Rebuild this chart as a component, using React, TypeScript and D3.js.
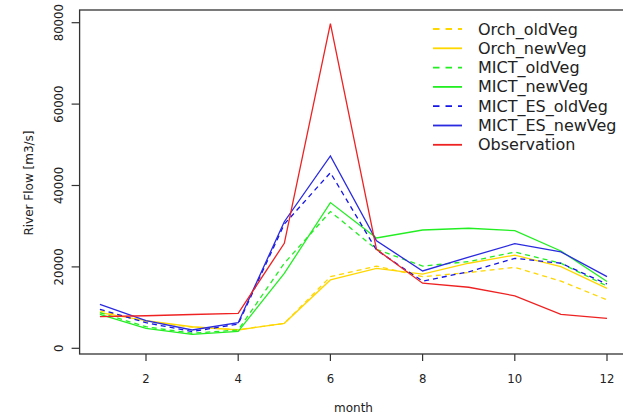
import React from "react";
import * as d3 from "d3";

const months = [1, 2, 3, 4, 5, 6, 7, 8, 9, 10, 11, 12];
const orchOld = [9200, 6600, 5200, 4600, 6100, 17600, 20200, 17600, 18600, 19900, 16500, 11900];
const orchNew = [8750, 6800, 5300, 4500, 6140, 16800, 19650, 18250, 20900, 22900, 20050, 14740];
const mictOld = [8750, 5300, 3700, 4500, 20900, 33600, 24300, 20200, 21300, 23650, 20900, 15300];
const mictNew = [8350, 4900, 3440, 4180, 18400, 35800, 27100, 29070, 29500, 28900, 23900, 16400];
const mictEsOld = [9580, 6300, 4100, 5970, 30500, 43150, 24150, 16500, 18800, 22100, 20900, 15800];
const mictEsNew = [10800, 6800, 4500, 6300, 31100, 47250, 26400, 19000, 22400, 25700, 23700, 17600];
const observation = [7760, 8000, 8300, 8600, 25800, 79800, 24300, 16000, 15000, 12900, 8350, 7370];

const xTicks = [2, 4, 6, 8, 10, 12];
const yTicks = [0, 20000, 40000, 60000, 80000];

const seriesNames = ["Orch_oldVeg", "Orch_newVeg", "MICT_oldVeg", "MICT_newVeg", "MICT_ES_oldVeg", "MICT_ES_newVeg", "Observation"];
const seriesValues = [orchOld, orchNew, mictOld, mictNew, mictEsOld, mictEsNew, observation];
const seriesColors = ["#ffd700", "#ffd700", "#22ee22", "#22ee22", "#1515e6", "#2a2ae0", "#ee2222"];
const seriesDashed = [true, false, true, false, true, false, false];

export default function App() {
  const left = 79.6, right = 627.3, top = 10, bottom = 354;
  const x = d3.scaleLinear().domain([1, 12]).range([99.9, 607]);
  const y = d3.scaleLinear().domain([0, 80000]).range([348.3, 22.7]);
  const line = d3.line<number>().x((_, i) => x(months[i])).y((d) => y(d));
  const font = "DejaVu Sans, sans-serif";
  const axisColor = "#333";

  return (
    <svg width={623} height={415} style={{ position: "absolute", left: 0, top: 0, background: "#fff" }}>
      <rect x={0} y={0} width={623} height={415} fill="#fff" />
      {seriesValues.map((vals, i) => (
        <path key={i} d={line(vals) || ""} fill="none" stroke={seriesColors[i]} strokeWidth={1.3}
          strokeDasharray={seriesDashed[i] ? "5,4" : undefined} />
      ))}
      <rect x={left} y={top} width={right - left} height={bottom - top} fill="none" stroke={axisColor} strokeWidth={1.3} />
      {xTicks.map((t) => (
        <g key={t}>
          <line x1={x(t)} x2={x(t)} y1={bottom} y2={bottom + 7} stroke={axisColor} strokeWidth={1.2} />
          <text x={x(t)} y={382.5} textAnchor="middle" fontFamily={font} fontSize={11.7} fill="#222">{t}</text>
        </g>
      ))}
      {yTicks.map((t) => (
        <g key={t}>
          <line x1={left - 8} x2={left} y1={y(t)} y2={y(t)} stroke={axisColor} strokeWidth={1.2} />
          <text transform={`translate(62.5,${y(t)}) rotate(-90)`} textAnchor="middle" fontFamily={font} fontSize={11.7} fill="#222">{t}</text>
        </g>
      ))}
      <text x={353.5} y={412} textAnchor="middle" fontFamily={font} fontSize={12} fill="#222">month</text>
      <text transform={`translate(32.5,183) rotate(-90)`} textAnchor="middle" fontFamily={font} fontSize={12} fill="#222">River Flow [m3/s]</text>
      {seriesNames.map((name, i) => {
        const ly = 29 + i * 19.3;
        return (
          <g key={name}>
            <line x1={433} x2={462} y1={ly} y2={ly} stroke={seriesColors[i]} strokeWidth={1.8}
              strokeDasharray={seriesDashed[i] ? "6.5,6" : undefined} />
            <text x={478} y={ly + 5.5} fontFamily={font} fontSize={16} fill="#222">{name}</text>
          </g>
        );
      })}
    </svg>
  );
}
